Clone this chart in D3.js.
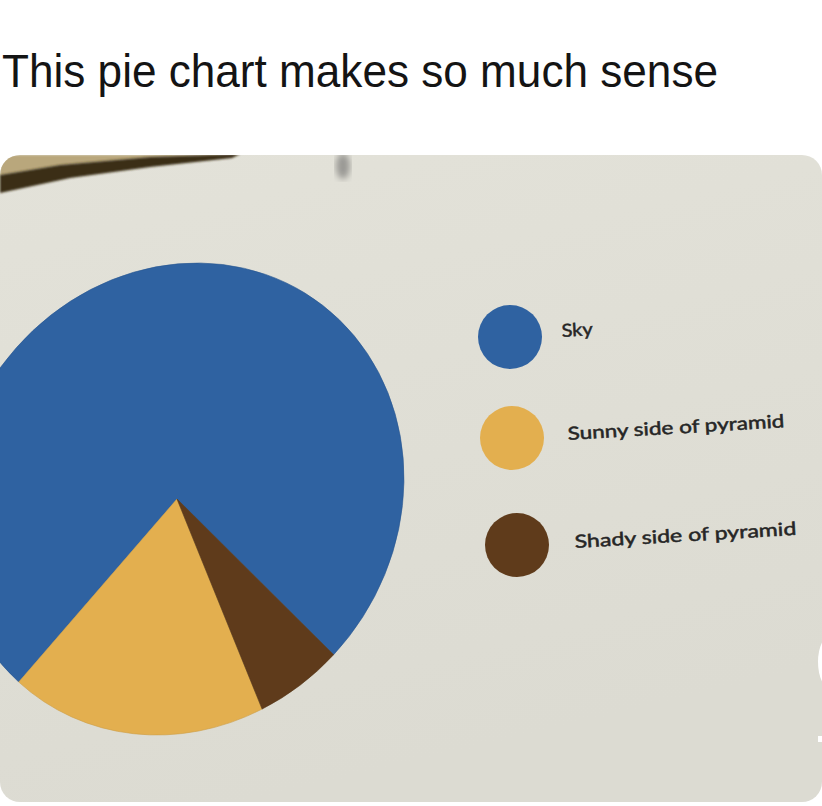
<!DOCTYPE html>
<html>
<head>
<meta charset="utf-8">
<script src="https://cdn.jsdelivr.net/npm/d3@7"></script>
<style>
  html, body { margin: 0; padding: 0; background: #ffffff; }
  svg { display: block; }
</style>
</head>
<body>
<div id="chart"></div>
<script>
// ---- data ----
const title = "This pie chart makes so much sense";
const categories = ["Sky", "Sunny side of pyramid", "Shady side of pyramid"];
const values = [75.6, 18.4, 6.0];
const palette = ["#2f62a1", "#e3af4f", "#5f3b1b"];

// ---- layout ----
const W = 822, H = 806;
const svg = d3.select("#chart").append("svg")
  .attr("width", W).attr("height", H);

const defs = svg.append("defs");
const grad = defs.append("linearGradient").attr("id", "paper")
  .attr("x1", 0).attr("y1", 0).attr("x2", 0.3).attr("y2", 1);
grad.append("stop").attr("offset", "0%").attr("stop-color", "#e3e2d9");
grad.append("stop").attr("offset", "100%").attr("stop-color", "#dcdbd2");
defs.append("clipPath").attr("id", "photoClip")
  .append("rect").attr("x", 0).attr("y", 155).attr("width", W).attr("height", 647).attr("rx", 20);
defs.append("filter").attr("id", "blur3")
  .append("feGaussianBlur").attr("stdDeviation", 3);
defs.append("filter").attr("id", "blur1")
  .append("feGaussianBlur").attr("stdDeviation", 1.2);

// title
svg.append("text")
  .attr("x", 2).attr("y", 87)
  .attr("font-family", "'Liberation Sans', Arial, sans-serif")
  .attr("font-size", 46)
  .attr("fill", "#141414")
  .attr("textLength", 716)
  .attr("lengthAdjust", "spacingAndGlyphs")
  .text(title);

// photo
const photo = svg.append("g").attr("clip-path", "url(#photoClip)");
photo.append("rect").attr("x", 0).attr("y", 155).attr("width", W).attr("height", 647)
  .attr("fill", "url(#paper)");

// wooden edge at top-left
photo.append("path")
  .attr("d", "M0,155 L240,155 L150,158 L60,166 L0,176 Z")
  .attr("fill", "#b9a77c").attr("filter", "url(#blur1)");
photo.append("path")
  .attr("d", "M0,175 L60,165 L150,157 L240,154 L232,158 L150,167 L70,178 L0,193 Z")
  .attr("fill", "#3b2d17").attr("filter", "url(#blur1)");
// pin shadow
photo.append("ellipse").attr("cx", 343).attr("cy", 166).attr("rx", 7).attr("ry", 13)
  .attr("fill", "#9a9994").attr("filter", "url(#blur3)");
// white UI bits at right edge
photo.append("ellipse").attr("cx", 832).attr("cy", 662).attr("rx", 14).attr("ry", 28)
  .attr("fill", "#ffffff");
photo.append("rect").attr("x", 818).attr("y", 736).attr("width", 6).attr("height", 6)
  .attr("fill", "#ffffff");

// ---- pie ----
const color = d3.scaleOrdinal().domain(categories).range(palette);
const deg = Math.PI / 180;
const pie = d3.pie().sort(null).value(d => d.value)
  .startAngle(491.3 * deg).endAngle(131.3 * deg);
const R = 236;
const arc = d3.arc().innerRadius(0).outerRadius(R);
const data = categories.map((c, i) => ({ name: c, value: values[i] }));

const pieG = photo.append("g")
  .attr("transform", "translate(177,499) matrix(0.958,0,-0.085,1,0,0)");
pieG.selectAll("path").data(pie(data)).join("path")
  .attr("d", arc)
  .attr("fill", d => color(d.data.name))
  .attr("stroke", d => d3.color(color(d.data.name)).darker(0.3))
  .attr("stroke-width", 0.6);

// ---- legend ----
const legendPos = [
  { cx: 510, cy: 337, tx: 562, ty: 337, len: 31 },
  { cx: 512, cy: 438, tx: 568, ty: 440, len: 217 },
  { cx: 517, cy: 545, tx: 575, ty: 548, len: 222 }
];
const leg = photo.append("g");
categories.forEach((c, i) => {
  const p = legendPos[i];
  leg.append("circle").attr("cx", p.cx).attr("cy", p.cy).attr("r", 32)
    .attr("fill", color(c));
  leg.append("text")
    .attr("transform", `translate(${p.tx},${p.ty}) rotate(-3.4)`)
    .attr("font-family", "Lato, 'Open Sans', sans-serif")
    .attr("font-size", 18)
    .attr("fill", "#262626")
    .attr("stroke", "#262626").attr("stroke-width", 0.5)
    .attr("textLength", p.len)
    .attr("lengthAdjust", "spacingAndGlyphs")
    .text(c);
});
</script>
</body>
</html>
